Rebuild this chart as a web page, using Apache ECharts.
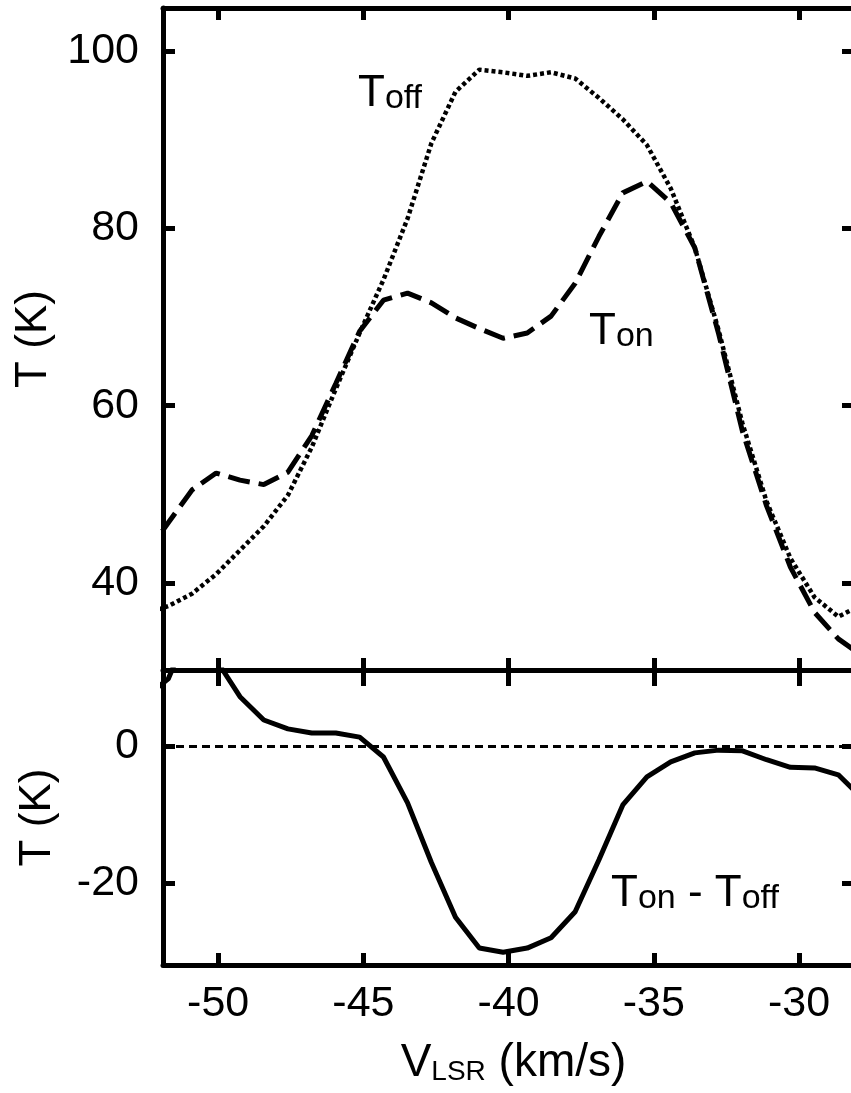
<!DOCTYPE html>
<html>
<head>
<meta charset="utf-8">
<script src="https://cdn.jsdelivr.net/npm/echarts@6.0.0/dist/echarts.min.js"></script>
</head>
<body style="margin: 0; background: #fff">
<div id="chart" style="width: 851px; height: 1093px"></div>
<script type="text/javascript">
// velocity channels (km/s)
var velocity = [-52.54, -51.72, -50.90, -50.07, -49.25, -48.43, -47.60, -46.78, -45.95, -45.13,
    -44.31, -43.48, -42.66, -41.83, -41.01, -40.19, -39.36, -38.54, -37.71, -36.89,
    -36.07, -35.24, -34.42, -33.59, -32.77, -31.95, -31.12, -30.30, -29.47, -28.65, -27.83];
// off-source spectrum (K)
var tOff = [36.5, 37.4, 38.8, 41.0, 43.7, 46.4, 49.9, 55.3, 61.9, 68.2,
    74.2, 81.1, 89.6, 95.4, 97.9, 97.6, 97.2, 97.6, 96.9, 94.7,
    92.3, 89.4, 84.5, 77.8, 68.5, 58.0, 49.2, 42.8, 38.4, 36.2, 37.6];
// on-source spectrum (K)
var tOn = [43.0, 46.8, 50.5, 52.4, 51.6, 51.1, 52.5, 56.6, 62.5, 68.4,
    71.9, 72.7, 71.6, 69.9, 68.7, 67.6, 68.2, 70.1, 73.8, 79.1,
    84.0, 85.3, 82.9, 77.8, 68.1, 57.1, 48.7, 41.8, 36.7, 33.7, 31.8];
// difference Ton - Toff (K)
var tDiff = [7.0, 9.8, 18.0, 12.6, 7.2, 3.8, 2.5, 1.9, 1.9, 1.3,
    -1.6, -8.3, -17.0, -25.0, -29.5, -30.1, -29.5, -28.0, -24.2, -16.6,
    -8.6, -4.5, -2.3, -1.0, -0.6, -0.7, -2.0, -3.1, -3.2, -4.2, -7.6];

var xTicks = [-50, -45, -40, -35, -30];
var yTicksTop = [40, 60, 80, 100];
var yTicksBottom = [-20, 0];

function pairs(ys) {
    return velocity.map(function (v, i) { return [v, ys[i]]; });
}

var font = "'Liberation Sans', Arial, sans-serif";
var black = '#000';

function axis(opts) {
    var a = {
        type: 'value',
        gridIndex: opts.grid,
        position: opts.position,
        min: opts.min,
        max: opts.max,
        z: 5,
        splitLine: { show: false },
        axisLine: { show: opts.line !== false, onZero: false, lineStyle: { color: black, width: 5 } },
        axisTick: {
            show: true, inside: true, length: opts.tickLen || 12,
            customValues: opts.ticks,
            lineStyle: { color: black, width: 5 }
        },
        // frame axes keep invisible labels so their ticks follow the same values
        axisLabel: {
            show: true, customValues: opts.ticks, margin: opts.margin || 8,
            color: opts.labels ? black : 'rgba(0,0,0,0)', fontSize: 43, fontFamily: font
        }
    };
    if (opts.name) {
        a.name = opts.name;
        a.nameLocation = 'middle';
        a.nameGap = opts.nameGap;
        a.nameTextStyle = opts.nameStyle;
    }
    return a;
}

var yName = { color: black, fontSize: 44, fontFamily: font };
var big = { fontSize: 44, lineHeight: 44, fontFamily: font, color: black };
var small = { fontSize: 34, lineHeight: 37, fontFamily: font, color: black, verticalAlign: 'bottom' };
var nameBig = { fontSize: 46, lineHeight: 46, fontFamily: font, color: black };
var nameSub = { fontSize: 28, lineHeight: 33, fontFamily: font, color: black, verticalAlign: 'bottom' };

var xMin = -51.9, xMax = -28.11;

var chart = echarts.init(document.getElementById('chart'));
chart.setOption({
    animation: false,
    backgroundColor: '#fff',
    grid: [
        { left: 163, top: 8, width: 691, height: 662, containLabel: false, outerBoundsMode: 'none' },
        { left: 163, top: 670, width: 691, height: 295, containLabel: false, outerBoundsMode: 'none' }
    ],
    xAxis: [
        axis({ grid: 0, position: 'bottom', min: xMin, max: xMax, ticks: xTicks }),
        axis({ grid: 0, position: 'top', min: xMin, max: xMax, ticks: xTicks }),
        axis({
            grid: 1, position: 'bottom', min: xMin, max: xMax, ticks: xTicks, labels: true, margin: 18,
            name: '{v|V}{s|LSR}{v| (km/s)}', nameGap: 75,
            nameStyle: { padding: [0, 0, 0, 10], rich: { v: nameBig, s: nameSub } }
        }),
        axis({ grid: 1, position: 'top', min: xMin, max: xMax, ticks: xTicks, line: false, tickLen: 16 })
    ],
    yAxis: [
        axis({
            grid: 0, position: 'left', min: 30.19, max: 104.85, ticks: yTicksTop, labels: true, margin: 24,
            name: 'T (K)', nameGap: 103, nameStyle: yName
        }),
        axis({ grid: 0, position: 'right', min: 30.19, max: 104.85, ticks: yTicksTop }),
        axis({
            grid: 1, position: 'left', min: -31.97, max: 11.1, ticks: yTicksBottom, labels: true, margin: 24,
            name: 'T (K)', nameGap: 103, nameStyle: yName
        }),
        axis({ grid: 1, position: 'right', min: -31.97, max: 11.1, ticks: yTicksBottom })
    ],
    series: [
        {
            name: 'Toff', type: 'line', xAxisIndex: 0, yAxisIndex: 0,
            data: pairs(tOff), symbol: 'none',
            lineStyle: { color: black, width: 4.5, type: [4, 3], cap: 'butt' }
        },
        {
            name: 'Ton', type: 'line', xAxisIndex: 0, yAxisIndex: 0,
            data: pairs(tOn), symbol: 'none',
            lineStyle: { color: black, width: 5, type: [22, 9], cap: 'butt' }
        },
        {
            name: 'Ton - Toff', type: 'line', xAxisIndex: 2, yAxisIndex: 2,
            data: pairs(tDiff), symbol: 'none',
            lineStyle: { color: black, width: 5 },
            markLine: {
                silent: true, symbol: ['none', 'none'], label: { show: false },
                lineStyle: { color: black, width: 3, type: [8, 5] },
                data: [{ yAxis: 0 }]
            }
        }
    ],
    graphic: [
        { type: 'text', x: 358, y: 72, style: { text: '{a|T}{b|off}', rich: { a: big, b: small } } },
        { type: 'text', x: 589, y: 310, style: { text: '{a|T}{b|on}', rich: { a: big, b: small } } },
        { type: 'text', x: 611, y: 872, style: { text: '{a|T}{b|on}{a| - T}{b|off}', rich: { a: big, b: small } } }
    ]
});
</script>
</body>
</html>
